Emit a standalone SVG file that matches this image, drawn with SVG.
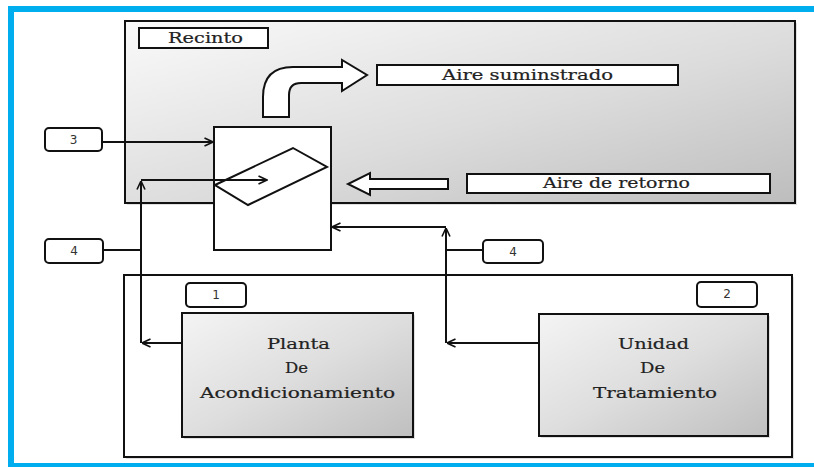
<svg xmlns="http://www.w3.org/2000/svg" width="814" height="467" viewBox="0 0 814 467">
  <defs>
    <linearGradient id="roomFill" x1="0" y1="0" x2="1" y2="1">
      <stop offset="0" stop-color="#fafafa"/>
      <stop offset="0.55" stop-color="#dcdcdc"/>
      <stop offset="1" stop-color="#bdbdbd"/>
    </linearGradient>
    <linearGradient id="plantFill" x1="0" y1="0" x2="1" y2="1">
      <stop offset="0" stop-color="#f4f4f4"/>
      <stop offset="0.5" stop-color="#dedede"/>
      <stop offset="1" stop-color="#bfbfbf"/>
    </linearGradient>
    <marker id="chev" viewBox="0 0 10 10" refX="9.5" refY="5" markerWidth="10" markerHeight="10" markerUnits="userSpaceOnUse" orient="auto">
      <path d="M1,1 L9.5,5 L1,9" fill="none" stroke="#111" stroke-width="1.6"/>
    </marker>
  </defs>
  <style>
    .box { stroke: #111; stroke-width: 2; }
    .label { fill: #fff; stroke: #111; stroke-width: 2; }
    .tag { fill: #fff; stroke: #111; stroke-width: 2; }
    .serif { font-family: "DejaVu Serif", "Liberation Serif", serif; font-size: 14px; fill: #222; stroke: #222; stroke-width: 0.2; }
    .num { font-family: "DejaVu Sans", "Liberation Sans", sans-serif; font-size: 12px; fill: #333; text-anchor: middle; }
    .wire { fill: none; stroke: #111; stroke-width: 2; }
    .hollow { fill: #fff; stroke: #111; stroke-width: 2; stroke-linejoin: miter; }
    .shadow { fill: #000; opacity: 0.12; }
  </style>

  <!-- page frame -->
  <rect x="0" y="0" width="814" height="467" fill="#fff"/>
  <g id="frame" fill="#00aeef">
    <rect x="8" y="6" width="806" height="6"/>
    <rect x="8" y="6" width="6" height="461"/>
    <rect x="8" y="463" width="806" height="4"/>
  </g>

  <!-- room -->
  <g id="recinto">
    <rect class="shadow" x="127" y="23" width="670" height="182"/>
    <rect class="box" x="125" y="21" width="670" height="182" fill="url(#roomFill)"/>
    <rect class="label" x="139" y="28" width="129" height="20"/>
    <text class="serif" x="205.5" y="43" text-anchor="middle" textLength="75" lengthAdjust="spacingAndGlyphs">Recinto</text>
  </g>

  <!-- supply air -->
  <g id="aire-suministrado">
    <path class="hollow" d="M263,117 L263,97 Q263,67 293,67 L342,67 L342,60 L367,75 L342,91 L342,83 L301,83 Q289,83 289,95 L289,117 Z"/>
    <rect class="label" x="377" y="65" width="301" height="20"/>
    <text class="serif" x="527.5" y="80" text-anchor="middle" textLength="171" lengthAdjust="spacingAndGlyphs">Aire suminstrado</text>
  </g>

  <!-- return air -->
  <g id="aire-retorno">
    <path class="hollow" d="M448,179 L370,179 L370,173 L348,184 L370,195 L370,189 L448,189 Z"/>
    <rect class="label" x="467" y="174" width="303" height="19"/>
    <text class="serif" x="616.5" y="188" text-anchor="middle" textLength="147" lengthAdjust="spacingAndGlyphs">Aire de retorno</text>
  </g>

  <!-- plant enclosure -->
  <g id="sala">
    <rect class="shadow" x="126" y="277" width="668" height="182"/>
    <rect class="box" x="124" y="275" width="668" height="182" fill="#fff"/>
  </g>

  <!-- air handling unit with coil -->
  <g id="unidad-aire">
    <rect class="box" x="214" y="127" width="117" height="123" fill="#fff"/>
    <path class="wire" d="M215,185 L293,148 L327,167 L248,205 Z"/>
  </g>

  <g id="planta">
    <rect class="shadow" x="184" y="315" width="231" height="124"/>
    <rect class="box" x="182" y="313" width="231" height="124" fill="url(#plantFill)"/>
    <text class="serif" x="298.5" y="349" text-anchor="middle" textLength="63" lengthAdjust="spacingAndGlyphs">Planta</text>
    <text class="serif" x="296.5" y="373" text-anchor="middle" textLength="23" lengthAdjust="spacingAndGlyphs">De</text>
    <text class="serif" x="297.5" y="398" text-anchor="middle" textLength="195" lengthAdjust="spacingAndGlyphs">Acondicionamiento</text>
  </g>

  <g id="tratamiento">
    <rect class="shadow" x="541" y="316" width="229" height="122"/>
    <rect class="box" x="539" y="314" width="229" height="122" fill="url(#plantFill)"/>
    <text class="serif" x="653.5" y="349" text-anchor="middle" textLength="71" lengthAdjust="spacingAndGlyphs">Unidad</text>
    <text class="serif" x="652.5" y="373" text-anchor="middle" textLength="25" lengthAdjust="spacingAndGlyphs">De</text>
    <text class="serif" x="655" y="398" text-anchor="middle" textLength="124" lengthAdjust="spacingAndGlyphs">Tratamiento</text>
  </g>

  <!-- numbered tags -->
  <g id="tag-3">
    <rect class="tag" x="45" y="128" width="57" height="23" rx="4"/>
    <text class="num" x="73.5" y="144">3</text>
  </g>
  <g id="tag-4a">
    <rect class="tag" x="45" y="239" width="58" height="24" rx="4"/>
    <text class="num" x="74" y="255">4</text>
  </g>
  <g id="tag-4b">
    <rect class="tag" x="483" y="240" width="60" height="23" rx="4"/>
    <text class="num" x="513" y="256">4</text>
  </g>
  <g id="tag-1">
    <rect class="tag" x="186" y="283" width="60" height="24" rx="4"/>
    <text class="num" x="216" y="299">1</text>
  </g>
  <g id="tag-2">
    <rect class="tag" x="697" y="282" width="60" height="25" rx="4"/>
    <text class="num" x="727" y="298">2</text>
  </g>

  <!-- connectors -->
  <g id="connectors">
    <line class="wire" x1="102" y1="142" x2="213" y2="142" marker-end="url(#chev)"/>
    <line class="wire" x1="182" y1="343" x2="142" y2="343" marker-end="url(#chev)"/>
    <line class="wire" x1="141" y1="343" x2="141" y2="181" marker-end="url(#chev)"/>
    <line class="wire" x1="141" y1="180" x2="267" y2="180" marker-end="url(#chev)"/>
    <line class="wire" x1="103" y1="250" x2="141" y2="250"/>
    <line class="wire" x1="539" y1="343" x2="447" y2="343" marker-end="url(#chev)"/>
    <line class="wire" x1="446" y1="343" x2="446" y2="228" marker-end="url(#chev)"/>
    <line class="wire" x1="446" y1="227" x2="332" y2="227" marker-end="url(#chev)"/>
    <line class="wire" x1="446" y1="250" x2="483" y2="250"/>
  </g>
</svg>
